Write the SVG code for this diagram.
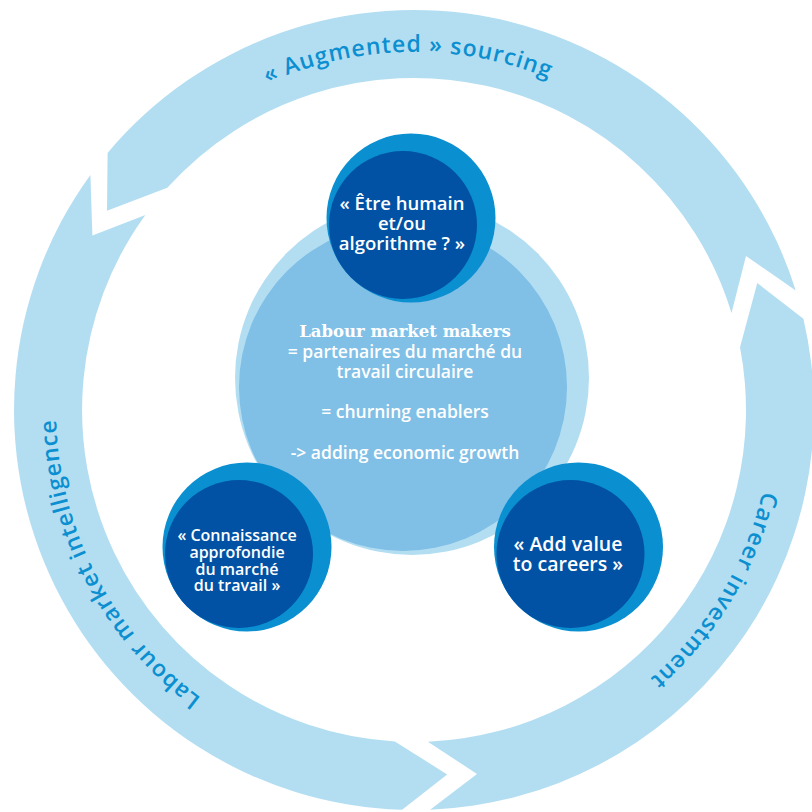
<svg xmlns="http://www.w3.org/2000/svg" width="812" height="812" viewBox="0 0 812 812">
  <style>
    .ring { fill: #b3def2; }
    .halo { fill: #b3def2; }
    .core { fill: #80bfe6; }
    .rim { fill: #0a8fd0; }
    .disc { fill: #0152a5; }
    .lbl { font-family: "Open Sans", "DejaVu Sans", sans-serif; fill: #ffffff; text-anchor: middle; font-weight: 600; }
    .body { font-family: "Open Sans", "DejaVu Sans", sans-serif; fill: #ffffff; text-anchor: middle; font-size: 17.5px; font-weight: 600; }
    .head { font-family: "DejaVu Serif", serif; fill: #ffffff; text-anchor: middle; font-size: 16.5px; font-weight: bold; }
    .arc-label { font-family: "Open Sans", "DejaVu Sans", sans-serif; fill: #0b8fd0; font-size: 23px; font-weight: 600; letter-spacing: 1px; }
  </style>
  <defs>
    <path id="arc-top" d="M100.9,236.4 A358,358 0 0 1 720.9,225.6"/>
    <path id="arc-left" d="M398.4,767.7 A358,358 0 0 1 112.1,217.6"/>
    <path id="arc-right" d="M727.1,236.4 A358,358 0 0 1 407.8,767.9"/>
  </defs>

  <!-- circular cycle: three arrow segments running counter-clockwise -->
  <g id="connectors">
    <path id="seg-sourcing" class="ring" d="M795.7,290.4 A400,400 0 0 0 107.6,152.9 L107,210.7 L167.3,187.8 A332,332 0 0 1 731.5,312.9 L746,255.9 Z"/>
    <path id="seg-intelligence" class="ring" d="M90.4,174.9 A400,400 0 0 0 402.1,809.8 L447.2,774.5 L394.9,741.4 A332,332 0 0 1 145.4,214.9 L92.4,235.4 Z"/>
    <path id="seg-investment" class="ring" d="M430.1,809.7 A400,400 0 0 0 803.4,318.7 L757.3,283 L740,347.2 A332,332 0 0 1 427.9,741.7 L477,774 Z"/>
    <text class="arc-label"><textPath href="#arc-top" startOffset="50%" text-anchor="middle">« Augmented »   sourcing</textPath></text>
    <text class="arc-label"><textPath href="#arc-left" startOffset="50%" text-anchor="middle">Labour market intelligence</textPath></text>
    <text class="arc-label"><textPath href="#arc-right" startOffset="50%" text-anchor="middle">Career investment</textPath></text>
  </g>

  <!-- central hub -->
  <g id="node-hub">
    <circle class="halo" cx="412" cy="378" r="177"/>
    <circle class="core" cx="403" cy="387" r="164"/>
    <text class="head" x="405" y="337">Labour market makers</text>
    <text class="body" x="405" y="358">= partenaires du marché du</text>
    <text class="body" x="405" y="378">travail circulaire</text>
    <text class="body" x="405" y="418">= churning enablers</text>
    <text class="body" x="405" y="459">-&gt; adding economic growth</text>
  </g>

  <g id="node-human">
    <circle class="rim" cx="411" cy="218" r="84.5"/>
    <circle class="disc" cx="403" cy="225" r="74"/>
    <text class="lbl" x="402" y="210" font-size="18.5">« Être humain</text>
    <text class="lbl" x="402" y="230" font-size="18.5">et/ou</text>
    <text class="lbl" x="402" y="250" font-size="18.5">algorithme ? »</text>
  </g>

  <g id="node-knowledge">
    <circle class="rim" cx="247" cy="547" r="84.5"/>
    <circle class="disc" cx="239" cy="554" r="74"/>
    <text class="lbl" x="237" y="541" font-size="16">« Connaissance</text>
    <text class="lbl" x="237" y="557.5" font-size="16">approfondie</text>
    <text class="lbl" x="237" y="574.5" font-size="16">du marché</text>
    <text class="lbl" x="237" y="591" font-size="16">du travail »</text>
  </g>

  <g id="node-value">
    <circle class="rim" cx="578.5" cy="547" r="84.5"/>
    <circle class="disc" cx="570.5" cy="554" r="74"/>
    <text class="lbl" x="568" y="551" font-size="19.5">« Add value</text>
    <text class="lbl" x="568" y="571" font-size="19.5">to careers »</text>
  </g>
</svg>
